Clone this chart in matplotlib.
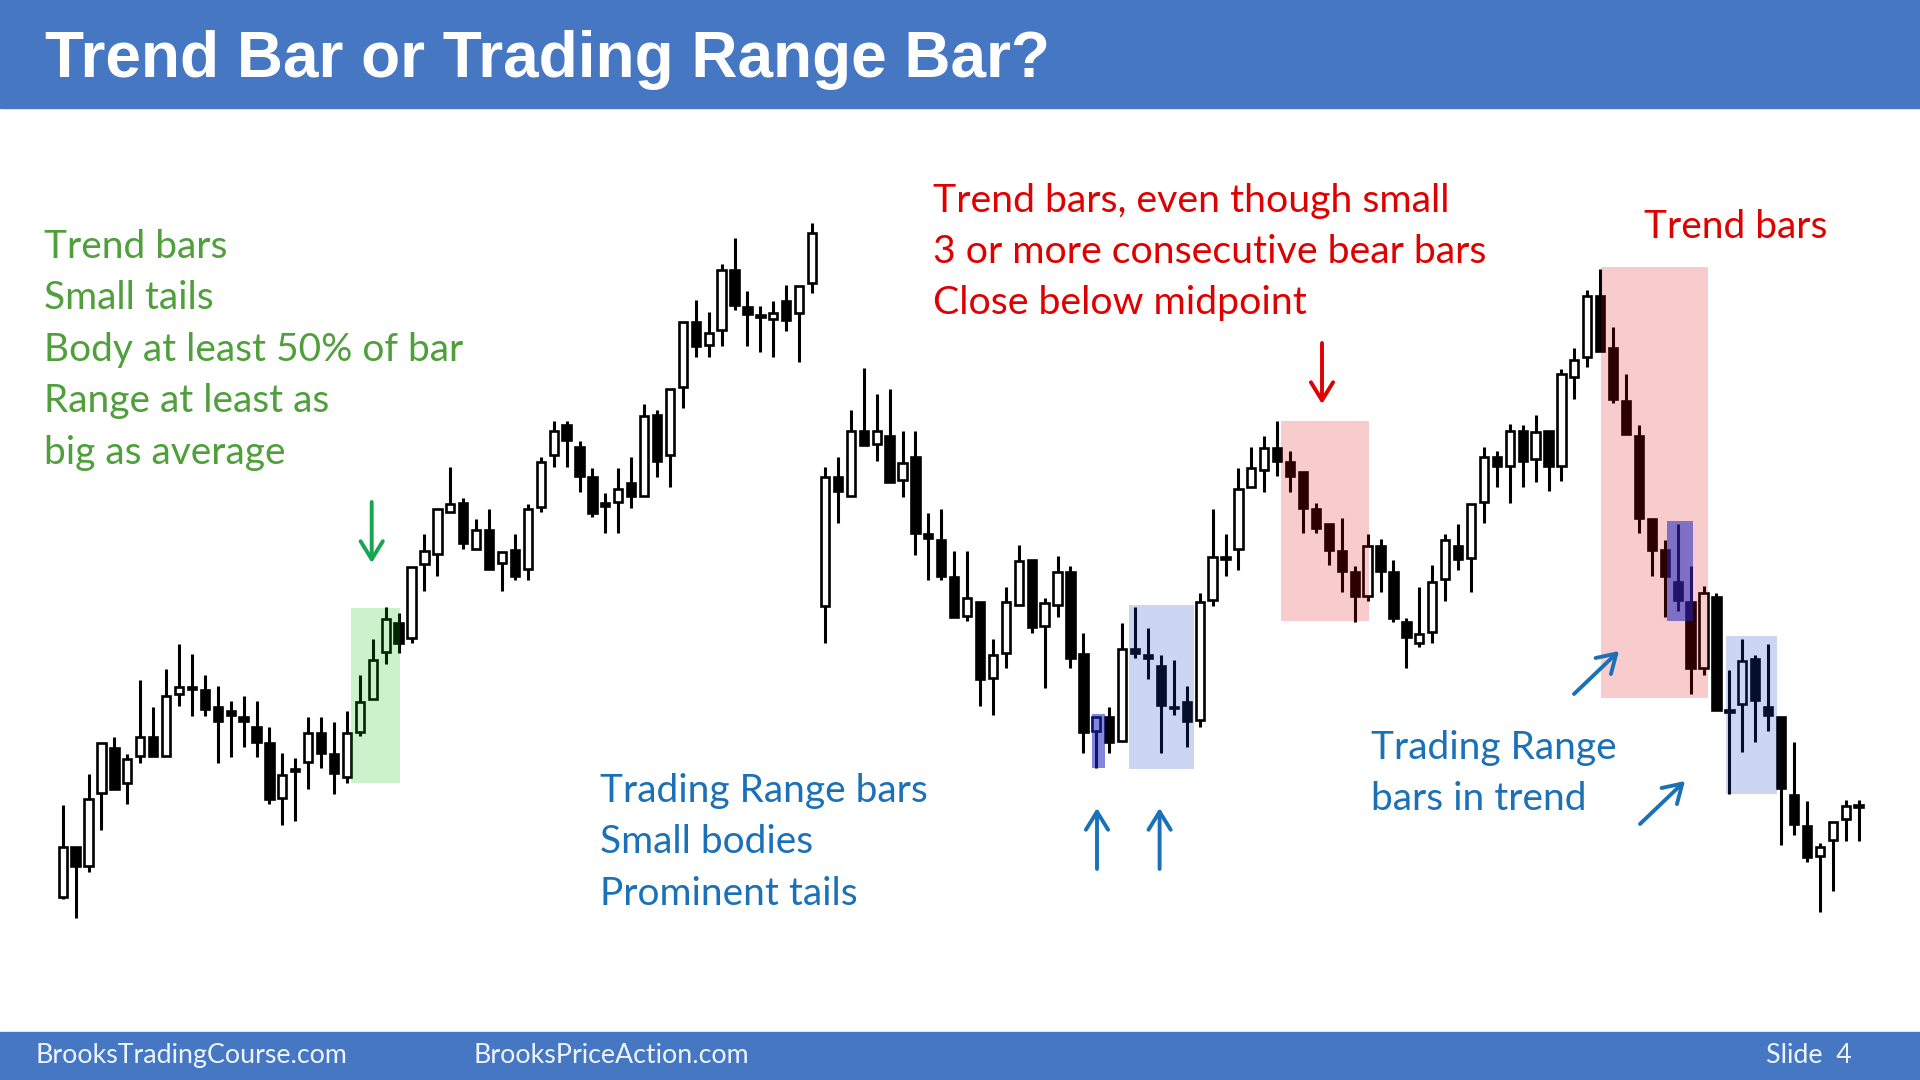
import matplotlib
matplotlib.use("Agg")
import matplotlib.pyplot as plt
from matplotlib.patches import Rectangle

# ----------------------------
# Kerzen-Daten (Preis-Einheiten, vom Chart abgelesen)
# ----------------------------
opens = [183, 233, 214, 287, 332, 297, 324, 343, 324, 386,
         393, 390, 373, 369, 363, 353, 337, 282, 309, 318,
         347, 326, 303, 348, 381, 428, 457, 442, 516, 526,
         568, 577, 531, 550, 517, 530, 511, 573, 625, 655,
         633, 603, 577, 578, 597, 584, 665, 625, 693, 758,
         735, 750, 810, 773, 765, 761, 779, 767, 797, 474,
         603, 584, 649, 636, 644, 600, 623, 546, 540, 503,
         464, 478, 402, 427, 475, 520, 454, 475, 508, 426,
         349, 363, 339, 431, 425, 414, 373, 378, 360, 480,
         523, 531, 593, 610, 632, 618, 608, 571, 556, 529,
         508, 484, 534, 508, 458, 437, 448, 501, 534, 522,
         578, 623, 614, 649, 621, 649, 614, 703, 723, 784,
         732, 679, 644, 561, 530, 498, 478, 412, 483, 370,
         376, 421, 373, 363, 285, 254, 224, 240, 261, 273]
highs = [275, 233, 306, 337, 343, 326, 400, 373, 411, 436,
         426, 405, 394, 379, 384, 379, 353, 327, 322, 363,
         363, 358, 369, 405, 441, 473, 467, 513, 546, 571,
         613, 582, 561, 571, 528, 546, 576, 623, 659, 659,
         639, 612, 587, 612, 623, 676, 670, 691, 758, 780,
         768, 816, 842, 789, 774, 779, 795, 794, 857, 613,
         623, 670, 712, 686, 691, 649, 649, 567, 571, 529,
         529, 478, 441, 493, 535, 520, 482, 524, 514, 447,
         363, 373, 457, 473, 452, 425, 420, 394, 487, 571,
         546, 612, 633, 644, 659, 629, 608, 577, 556, 562,
         514, 546, 541, 520, 462, 493, 515, 546, 556, 576,
         633, 629, 656, 655, 665, 649, 711, 732, 790, 811,
         753, 706, 655, 561, 540, 556, 514, 494, 487, 410,
         441, 425, 436, 363, 338, 279, 237, 258, 280, 280]
lows = [181, 162, 208, 250, 291, 276, 317, 324, 324, 374,
        364, 364, 317, 323, 333, 323, 276, 255, 259, 291,
        312, 286, 297, 344, 381, 416, 427, 437, 489, 504,
        568, 531, 531, 511, 489, 500, 500, 568, 613, 613,
        588, 563, 547, 547, 572, 584, 603, 593, 672, 723,
        723, 734, 770, 734, 728, 723, 749, 718, 787, 437,
        557, 584, 635, 619, 598, 583, 525, 500, 500, 463,
        459, 374, 365, 412, 475, 447, 392, 463, 412, 327,
        312, 327, 339, 422, 401, 327, 365, 333, 353, 474,
        504, 510, 593, 588, 604, 588, 547, 547, 515, 488,
        458, 479, 488, 458, 412, 433, 437, 479, 510, 488,
        557, 593, 577, 593, 598, 589, 599, 681, 713, 729,
        677, 646, 547, 504, 463, 469, 386, 405, 370, 286,
        328, 338, 349, 235, 245, 218, 168, 189, 239, 239]
closes = [233, 214, 281, 337, 291, 321, 343, 324, 384, 393,
          391, 371, 359, 365, 359, 338, 281, 305, 311, 347,
          327, 307, 347, 378, 420, 461, 437, 513, 529, 571,
          576, 537, 550, 511, 528, 504, 571, 618, 649, 640,
          604, 567, 574, 591, 584, 664, 619, 691, 758, 734,
          747, 810, 775, 766, 763, 767, 760, 794, 847, 603,
          589, 649, 635, 649, 598, 617, 547, 542, 504, 463,
          482, 401, 425, 478, 519, 453, 477, 508, 422, 348,
          363, 338, 431, 427, 422, 375, 372, 359, 478, 523,
          521, 591, 612, 632, 619, 604, 572, 552, 530, 509,
          484, 534, 509, 462, 443, 446, 498, 540, 521, 576,
          623, 614, 649, 619, 648, 614, 706, 720, 784, 729,
          681, 646, 562, 530, 504, 480, 412, 487, 370, 368,
          419, 380, 365, 292, 256, 223, 233, 258, 274, 275]

# Texte
title = "Trend Bar or Trading Range Bar?"
green_lines = ["Trend bars", "Small tails", "Body at least 50% of bar",
               "Range at least as", "big as average"]
red_lines = ["Trend bars, even though small", "3 or more consecutive bear bars",
             "Close below midpoint"]
red_right = "Trend bars"
blue_lines = ["Trading Range bars", "Small bodies", "Prominent tails"]
blue_right = ["Trading Range", "bars in trend"]
footer_left = "BrooksTradingCourse.com"
footer_mid = "BrooksPriceAction.com"
footer_right = "Slide  4"

# Farben
HEADER = "#4677c3"
GREEN = "#4f9f3b"
RED = "#df0000"
BLUE = "#1b71b7"

# ----------------------------
# Figur
# ----------------------------
fig = plt.figure(figsize=(19.2, 10.8), dpi=100)
fig.patch.set_facecolor("white")

STEP = 12.92   # Pixel pro Kerze
X0 = 62.7      # Pixel der ersten Kerze
ax = fig.add_axes([0, 0, 1, 1])
ax.set_xlim(-X0 / STEP, (1920 - X0) / STEP)
ax.set_ylim(0, 1080)
ax.axis("off")

x = list(range(len(opens)))
bottoms = [min(o, c) for o, c in zip(opens, closes)]
heights = [max(abs(c - o), 1.5) for o, c in zip(opens, closes)]
faces = ["white" if c >= o else "black" for o, c in zip(opens, closes)]

ax.vlines(x, lows, highs, color="black", linewidth=2.2, zorder=2)
ax.bar(x, heights, width=0.64, bottom=bottoms, color=faces,
       edgecolor="black", linewidth=1.9, zorder=3)

# Markierungs-Boxen (Kerzenindex, Preis) - werden ueber die Kerzen gelegt
boxes = [
    (22.31, 26.11, 297, 472, "#00c000", 0.20),
    (94.30, 101.08, 459, 659, "#e00000", 0.20),
    (79.64, 80.67, 312, 366, "#1a26c0", 0.55),
    (82.55, 87.56, 311, 475, "#1a40c0", 0.22),
    (119.06, 127.32, 382, 813, "#e00000", 0.20),
    (124.15, 126.16, 459, 559, "#1a26c0", 0.55),
    (128.72, 132.66, 286, 444, "#1a40c0", 0.22),
]
for x0, x1, y0, y1, col, a in boxes:
    ax.add_patch(Rectangle((x0, y0), x1 - x0, y1 - y0, facecolor=col,
                           alpha=a, edgecolor="none", zorder=4))

# ----------------------------
# Overlay fuer Texte, Balken, Pfeile (Pixel-Koordinaten)
# ----------------------------
ov = fig.add_axes([0, 0, 1, 1], facecolor="none")
ov.set_xlim(0, 1920)
ov.set_ylim(1080, 0)
ov.axis("off")

ov.add_patch(Rectangle((0, 0), 1920, 108, color=HEADER, zorder=1))
ov.add_patch(Rectangle((0, 1032), 1920, 48, color=HEADER, zorder=1))

ov.text(45, 77, title, color="white", fontsize=46, fontweight="bold",
        family="Liberation Sans", va="baseline", zorder=2)

for i, t in enumerate(green_lines):
    ov.text(44, 258 + i * 51.4, t, color=GREEN, fontsize=28, family="Lato",
            va="baseline")
for i, t in enumerate(red_lines):
    ov.text(933, 212 + i * 51.2, t, color=RED, fontsize=28.3, family="Lato",
            va="baseline")
ov.text(1644, 238, red_right, color=RED, fontsize=28, family="Lato",
        va="baseline")
for i, t in enumerate(blue_lines):
    ov.text(600, 802 + i * 51.4, t, color=BLUE, fontsize=28, family="Lato",
            va="baseline")
for i, t in enumerate(blue_right):
    ov.text(1371, 759 + i * 51.2, t, color=BLUE, fontsize=28, family="Lato",
            va="baseline")

ov.text(35, 1063, footer_left, color="#eef4ff", fontsize=19.3, family="Lato",
        va="baseline")
ov.text(474, 1063, footer_mid, color="#eef4ff", fontsize=19.3, family="Lato",
        va="baseline")
ov.text(1766, 1063, footer_right, color="#eef4ff", fontsize=19.3, family="Lato",
        va="baseline")

# Pfeile: (start, ende, farbe)
arrows = [
    ((371.7, 502), (371.7, 563), "#14a650"),
    ((1322, 343), (1322, 404), RED),
    ((1097, 869), (1097, 808), BLUE),
    ((1159.6, 869), (1159.6, 808), BLUE),
    ((1574, 694), (1619, 651), BLUE),
    ((1640, 824), (1685, 781), BLUE),
]
for start, end, col in arrows:
    ov.annotate("", xy=end, xytext=start,
                arrowprops=dict(arrowstyle="->,head_length=0.65,head_width=0.4",
                                color=col, lw=2.8, mutation_scale=20,
                                shrinkA=0, shrinkB=0))

plt.savefig("out.png", dpi=100)
plt.close()
